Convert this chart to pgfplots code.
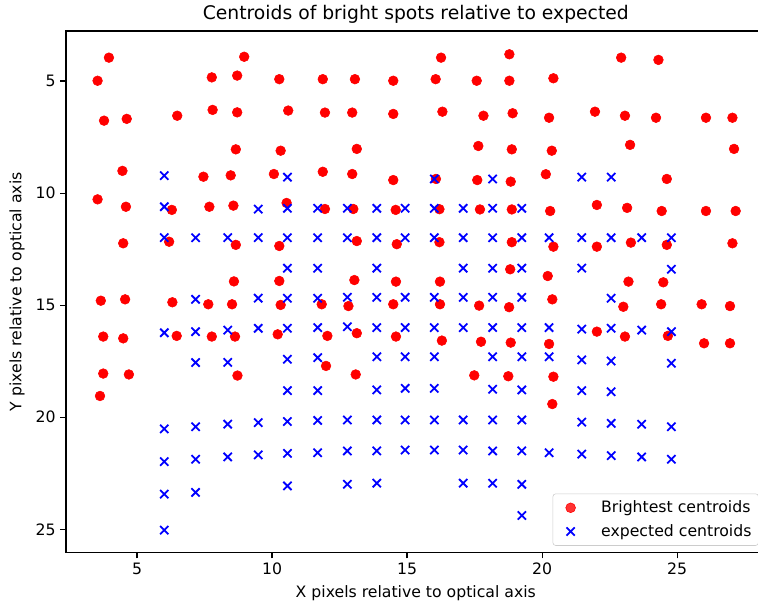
\documentclass[border=0pt]{standalone}
\usepackage{fontspec}
\setmainfont{DejaVu Sans}
\usepackage{pgfplots}
\pgfplotsset{compat=1.18}
\pgfplotsset{wideleg/.style={legend image code/.code={\path (0cm,0cm) (1.0cm,0cm); \draw[#1] plot coordinates {(0.32cm,0cm)};}}}
\begin{document}
\begin{tikzpicture}
\begin{axis}[
  name=ax,
  at={(0,0)}, anchor=south west,
  scale only axis,
  width=503.7pt, height=375.6pt,
  xmin=2.37, xmax=28.28,
  ymin=2.77, ymax=26.04,
  y dir=reverse,
  xtick={5,10,15,20,25}, ytick={5,10,15,20,25},
  xtick pos=bottom, ytick pos=left,
  tick align=outside,
  major tick length=4pt,
  tick style={black, line width=0.8pt},
  axis line style={line width=0.8pt},
  /pgf/number format/assume math mode=true,
  ticklabel style={font=\fontsize{11.3}{13.5}\selectfont},
  xlabel={X pixels relative to optical axis},
  ylabel={Y pixels relative to optical axis},
  label style={font=\fontsize{11.3}{13.5}\selectfont},
  xlabel style={yshift=-1pt},
  ylabel style={yshift=1pt},
  title={Centroids of bright spots relative to expected},
  title style={font=\fontsize{13.5}{16}\selectfont, yshift=-4pt},
  legend style={at={(1,0)}, anchor=south east, xshift=-5pt, yshift=5pt, draw=black!20, rounded corners=2pt, fill=white, fill opacity=0.8, text opacity=1, font=\fontsize{11.3}{13.5}\selectfont, inner xsep=3pt, inner ysep=3pt, row sep=3pt},
  legend cell align=left,
]
\addplot[only marks, mark=*, mark size=3.5pt, red, mark options={fill=red, draw=red}, wideleg] table {
x y
3.54 4.99
3.96 3.96
3.78 6.77
4.62 6.69
4.46 9.01
3.54 10.28
4.59 10.61
4.49 12.24
3.66 14.80
4.56 14.74
3.75 16.40
4.49 16.48
3.75 18.05
4.70 18.09
3.63 19.05
6.49 6.55
6.29 10.75
6.19 12.17
6.31 14.87
6.47 16.37
7.77 4.84
7.80 6.29
7.46 9.27
7.68 10.61
7.64 14.96
7.77 16.40
8.71 4.76
8.97 3.92
8.71 6.40
8.66 8.05
8.47 9.21
8.57 10.56
8.66 12.31
8.59 13.94
8.52 14.96
8.63 16.40
8.72 18.14
10.27 4.92
10.32 8.11
10.07 9.15
10.60 6.32
10.54 10.44
10.27 12.36
10.27 13.92
10.32 14.99
10.21 16.30
11.88 4.92
11.96 6.41
11.88 9.05
11.96 10.71
11.84 14.96
12.05 16.37
12.00 17.71
13.07 4.92
12.97 6.41
13.14 8.03
12.97 9.15
13.01 10.71
13.14 12.14
13.05 13.88
12.83 15.04
13.14 16.25
13.10 18.09
14.49 4.99
14.49 6.47
14.49 9.42
14.58 10.75
14.62 12.28
14.59 13.95
14.49 14.96
14.59 16.40
16.26 3.96
16.06 4.92
16.31 6.37
16.07 9.37
16.20 10.72
16.20 12.19
16.22 13.95
16.22 14.96
16.29 16.58
17.58 4.99
17.83 6.55
17.64 7.90
17.60 9.42
17.70 10.73
17.67 15.02
17.74 16.63
17.49 18.13
18.79 3.81
18.79 4.99
18.91 6.44
18.88 8.05
18.84 9.49
18.88 10.73
18.88 12.19
18.82 13.40
18.78 15.09
18.84 16.67
18.75 18.17
20.42 4.88
20.26 6.64
20.36 8.11
20.14 9.16
20.30 10.80
20.42 12.39
20.21 13.70
20.38 14.74
20.26 16.73
20.42 18.19
20.38 19.41
21.96 6.37
22.03 10.53
22.03 12.39
22.03 16.18
22.93 3.96
23.07 6.55
23.26 7.85
23.15 10.66
23.29 12.21
23.20 13.95
23.01 15.07
23.07 16.40
24.31 4.06
24.22 6.64
24.43 10.80
24.62 9.37
24.62 12.31
24.49 13.98
24.41 14.96
24.66 16.37
26.07 6.64
26.07 10.80
25.91 14.96
26.00 16.70
27.05 6.64
27.11 8.03
27.17 10.80
27.05 12.24
26.96 15.04
26.96 16.70
};
\addplot[only marks, mark=x, mark size=4.2pt, blue, line width=1.3pt, wideleg] table {
x y
6.01 9.22
6.01 10.61
6.01 11.99
6.01 16.23
6.01 20.52
6.01 21.98
6.01 23.43
6.01 25.03
7.17 11.99
7.17 14.74
7.17 16.18
7.17 17.56
7.17 20.42
7.17 21.87
7.17 23.35
8.36 11.99
8.36 16.11
8.36 17.55
8.36 20.31
8.36 21.77
9.49 10.72
9.49 11.99
9.49 14.69
9.49 16.03
9.49 20.24
9.49 21.68
10.57 9.29
10.57 10.68
10.57 11.99
10.57 13.35
10.57 14.69
10.57 16.03
10.57 17.41
10.57 18.81
10.57 20.19
10.57 21.61
10.57 23.06
11.69 10.68
11.69 11.99
11.69 13.35
11.69 14.69
11.69 16.00
11.69 17.34
11.69 18.81
11.69 20.14
11.69 21.58
12.79 10.68
12.79 11.99
12.79 14.65
12.79 15.96
12.79 20.12
12.79 21.50
12.79 22.99
13.88 10.68
13.88 11.99
13.88 13.35
13.88 14.65
13.88 16.00
13.88 17.30
13.88 18.78
13.88 20.12
13.88 21.50
13.88 22.94
14.93 10.68
14.93 11.99
14.93 14.65
14.93 16.00
14.93 17.30
14.93 18.71
14.93 20.12
14.93 21.46
16.01 9.37
16.01 10.68
16.01 11.99
16.01 14.65
16.01 16.00
16.01 17.30
16.01 18.71
16.01 20.12
16.01 21.46
17.08 10.68
17.08 11.99
17.08 13.35
17.08 14.65
17.08 16.00
17.08 20.12
17.08 21.46
17.08 22.94
18.17 9.37
18.17 10.68
18.17 11.99
18.17 13.35
18.17 14.65
18.17 16.00
18.17 17.30
18.17 18.75
18.17 20.12
18.17 21.50
18.17 22.94
19.25 10.68
19.25 11.99
19.25 13.35
19.25 14.65
19.25 16.00
19.25 17.30
19.25 18.78
19.25 20.12
19.25 21.50
19.25 22.99
19.25 24.38
20.26 11.99
20.26 16.00
20.26 17.30
20.26 21.58
21.47 9.29
21.47 11.99
21.47 13.35
21.47 16.07
21.47 17.44
21.47 18.81
21.47 20.22
21.47 21.64
22.56 9.29
22.56 11.99
22.56 14.69
22.56 16.03
22.56 17.49
22.56 18.86
22.56 20.27
22.56 21.71
23.69 11.99
23.69 16.11
23.69 20.31
23.69 21.77
24.79 11.99
24.79 13.40
24.79 16.18
24.79 17.59
24.79 20.42
24.79 21.87
};
\legend{Brightest centroids, expected centroids}
\end{axis}
\pgfresetboundingbox
\path[use as bounding box] (-47.5pt,-39.8pt) rectangle (498.2pt,397.9pt);
\end{tikzpicture}
\end{document}
